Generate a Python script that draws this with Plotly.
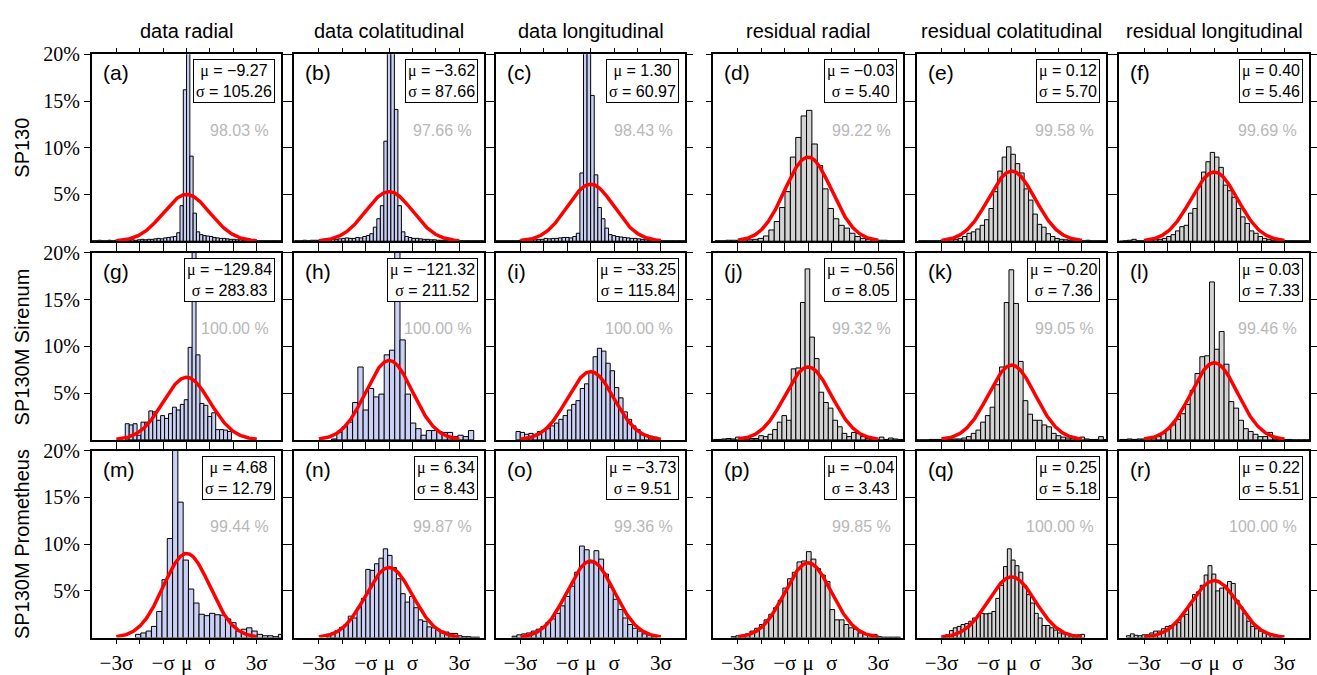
import numpy as np
import plotly.graph_objects as go

col_titles = ["data radial", "data colatitudinal", "data longitudinal",
              "residual radial", "residual colatitudinal", "residual longitudinal"]
row_titles = ["SP130", "SP130M Sirenum", "SP130M Prometheus"]
panel_labels = ["(a)", "(b)", "(c)", "(d)", "(e)", "(f)",
                "(g)", "(h)", "(i)", "(j)", "(k)", "(l)",
                "(m)", "(n)", "(o)", "(p)", "(q)", "(r)"]
mu_text = ["−9.27", "−3.62", "1.30", "−0.03", "0.12", "0.40",
           "−129.84", "−121.32", "−33.25", "−0.56", "−0.20", "0.03",
           "4.68", "6.34", "−3.73", "−0.04", "0.25", "0.22"]
sigma_text = ["105.26", "87.66", "60.97", "5.40", "5.70", "5.46",
              "283.83", "211.52", "115.84", "8.05", "7.36", "7.33",
              "12.79", "8.43", "9.51", "3.43", "5.18", "5.51"]
coverage = ["98.03", "97.66", "98.43", "99.22", "99.58", "99.69",
            "100.00", "100.00", "100.00", "99.32", "99.05", "99.46",
            "99.44", "99.87", "99.36", "99.85", "100.00", "100.00"]
# peak height (%) of fitted normal curve
fit_peak = [5.0, 5.3, 6.1, 9.0, 7.5, 7.4,
            6.7, 8.5, 7.3, 7.8, 8.0, 8.25,
            9.0, 7.5, 8.2, 8.0, 6.5, 6.1]
# histogram bins in units of sigma (first left edge, bin width)
bin_start = [-4.06, -4.125, -4.131, -3.98, -3.98, -4.076,
             -2.62, -2.46, -3.19, -4.09, -4.148, -4.133,
             -2.18, -2.68, -3.36, -3.29, -2.99, -3.75]
bin_width = [0.14, 0.15, 0.153, 0.23, 0.188, 0.186,
             0.168, 0.225, 0.183, 0.198, 0.2016, 0.207,
             0.226, 0.187, 0.206, 0.201, 0.165, 0.166]

# bar heights in percent
h_a = [0.05, 0.05, 0.1, 0.05, 0.05, 0.1, 0.05, 0.1, 0.1, 0.1,
       0.1, 0.1, 0.15, 0.1, 0.15, 0.2, 0.15, 0.2, 0.2, 0.25,
       0.3, 0.25, 0.35, 0.4, 0.45, 0.5, 0.9, 3.8, 16.2, 24.0,
       9.1, 3.0, 1.0, 0.7, 0.6, 0.55, 0.5, 0.4, 0.35, 0.3,
       0.3, 0.25, 0.2, 0.2, 0.15, 0.15, 0.1, 0.1, 0.1, 0.05,
       0.05, 0.05, 0.05, 0.05, 0.05, 0.05, 0.05, 0.05]
h_b = [0.05, 0.05, 0.05, 0.1, 0.05, 0.1, 0.1, 0.1, 0.15, 0.1,
       0.15, 0.2, 0.2, 0.25, 0.3, 0.35, 0.3, 0.3, 0.4, 0.35,
       0.5, 0.6, 0.8, 1.5, 2.4, 3.8, 10.7, 26.0, 22.0, 14.1,
       3.8, 1.0, 0.5, 0.4, 0.3, 0.3, 0.25, 0.2, 0.2, 0.15,
       0.15, 0.1, 0.1, 0.1, 0.1, 0.05, 0.05, 0.05, 0.05, 0.05,
       0.05, 0.05, 0.05, 0.05, 0.05]
h_c = [0.05, 0.05, 0.05, 0.05, 0.05, 0.05, 0.05, 0.1, 0.1, 0.1,
       0.15, 0.15, 0.2, 0.2, 0.3, 0.25, 0.3, 0.3, 0.35, 0.4,
       0.4, 0.35, 0.5, 0.85, 7.3, 30.0, 28.0, 15.6, 7.1, 3.6,
       2.4, 1.4, 0.7, 0.6, 0.5, 0.45, 0.4, 0.35, 0.3, 0.3,
       0.25, 0.2, 0.15, 0.1, 0.1, 0.1, 0.05, 0.05, 0.05, 0.05,
       0.05, 0.05, 0.05, 0.05]
h_d = [0.05, 0.05, 0.1, 0.1, 0.1, 0.15, 0.15, 0.2, 0.3, 0.56,
       1.2, 2.1, 3.6, 5.3, 9.0, 11.1, 13.4, 14.0, 10.4, 8.1,
       5.6, 3.5, 2.4, 1.7, 1.4, 0.85, 0.5, 0.3, 0.2, 0.15,
       0.1, 0.1, 0.05, 0.05, 0.05]
h_e = [0.05, 0.05, 0.05, 0.05, 0.05, 0.1, 0.1, 0.15, 0.2, 0.3,
       0.5, 0.85, 1.0, 1.3, 1.7, 2.3, 3.5, 5.3, 7.5, 9.0,
       10.1, 9.3, 8.3, 7.3, 5.6, 4.4, 2.9, 1.8, 1.5, 0.8,
       0.5, 0.3, 0.2, 0.15, 0.1, 0.1, 0.05, 0.05, 0.1, 0.05,
       0.05, 0.05, 0.05]
h_f = [0.0, 0.05, 0.1, 0.2, 0.05, 0.05, 0.1, 0.1, 0.15, 0.2,
       0.3, 0.5, 0.7, 1.1, 1.55, 1.7, 3.0, 3.5, 5.8, 7.4,
       8.5, 9.5, 9.0, 7.9, 6.0, 5.4, 4.7, 3.5, 2.6, 1.9,
       1.1, 0.85, 0.5, 0.3, 0.2, 0.1, 0.1, 0.05, 0.05, 0.05,
       0.05, 0.05, 0.05, 0.05]
h_g = [1.73, 1.6, 1.73, 0.5, 1.9, 1.9, 3.1, 3.0, 2.1, 2.6,
       2.3, 2.8, 3.5, 3.2, 3.8, 4.3, 9.9, 24.0, 9.1, 3.9,
       3.7, 2.5, 2.9, 1.1, 1.1, 1.05, 0.9]
h_h = [0.1, 0.8, 1.4, 1.9, 4.0, 7.8, 3.2, 5.5, 4.6, 4.9,
       9.1, 9.6, 22.0, 10.7, 4.9, 1.8, 1.2, 0.5, 1.0, 1.0,
       0.9, 0.8, 0.8, 0.35, 0.5, 0.35, 1.0]
h_i = [0.9, 0.8, 0.6, 0.7, 0.6, 0.9, 1.0, 1.2, 1.5, 1.8,
       2.2, 2.6, 3.2, 3.8, 4.2, 5.5, 6.0, 7.3, 8.9, 9.8,
       9.5, 8.2, 7.4, 5.6, 4.5, 3.0, 2.2, 1.5, 1.1, 0.7,
       0.5, 0.4, 0.3]
h_j = [0.05, 0.05, 0.1, 0.15, 0.1, 0.3, 0.1, 0.1, 0.15, 0.15,
       0.45, 0.35, 0.6, 1.1, 1.9, 2.6, 2.1, 7.6, 7.7, 14.7,
       18.3, 11.0, 8.7, 5.1, 4.0, 3.4, 2.1, 1.4, 0.7, 0.35,
       0.8, 0.7, 0.35, 0.15, 0.1, 0.05, 0.3, 0.05, 0.2, 0.1,
       0.05, 0.05]
h_k = [0.0, 0.0, 0.0, 0.05, 0.05, 0.05, 0.05, 0.05, 0.1, 0.1,
       0.2, 0.35, 0.7, 1.05, 1.9, 2.6, 3.5, 5.9, 7.8, 14.7,
       18.2, 14.6, 8.4, 4.2, 2.75, 2.1, 2.1, 1.6, 1.4, 0.7,
       0.45, 0.3, 0.2, 0.15, 0.1, 0.3, 0.1, 0.05, 0.05, 0.35,
       0.05]
h_l = [0.05, 0.05, 0.1, 0.05, 0.1, 0.1, 0.15, 0.2, 0.35, 0.7,
       1.1, 1.6, 2.2, 2.8, 3.8, 5.3, 7.1, 8.9, 9.0, 16.9,
       9.7, 11.6, 8.1, 4.1, 3.4, 2.1, 1.2, 0.9, 0.6, 0.35,
       0.35, 0.8, 0.1, 0.05, 0.05, 0.05, 0.0, 0.0, 0.0, 0.0]
h_m = [0.35, 0.5, 0.7, 1.2, 2.8, 6.2, 10.6, 24.0, 14.5, 8.3,
       5.2, 3.7, 2.5, 2.35, 2.6, 2.45, 2.4, 2.0, 1.6, 0.7,
       0.9, 1.05, 0.7, 0.35, 0.2, 0.2, 0.1, 0.35]
h_n = [0.35, 0.5, 0.75, 1.1, 1.4, 2.3, 2.1, 3.2, 4.2, 7.3,
       7.2, 7.9, 8.5, 9.5, 8.8, 7.5, 6.3, 4.7, 3.8, 4.4,
       3.2, 1.9, 1.75, 1.15, 1.05, 0.9, 0.7, 0.6, 0.45, 0.45,
       0.2, 0.1, 0.1, 0.05, 0.05]
h_o = [0.15, 0.3, 0.4, 0.5, 0.7, 0.9, 1.2, 1.6, 2.0, 2.6,
       3.4, 4.4, 5.5, 7.0, 9.8, 9.4, 8.0, 9.3, 8.4, 6.8,
       5.4, 4.1, 3.0, 2.1, 1.4, 1.0, 0.7, 0.4, 0.3, 0.2]
h_p = [0.1, 0.2, 0.25, 0.4, 0.7, 1.0, 1.4, 1.9, 2.5, 3.2,
       4.0, 5.3, 6.3, 7.0, 8.1, 8.2, 9.2, 8.4, 7.4, 6.7,
       6.0, 3.0, 1.9, 1.9, 1.4, 1.05, 0.9, 0.5, 0.4, 0.35,
       0.35, 0.1, 0.05, 0.05, 0.05, 0.05]
h_q = [0.1, 0.3, 0.75, 1.05, 1.2, 1.4, 1.5, 1.75, 2.1, 2.35,
       2.6, 2.55, 2.6, 2.8, 4.2, 5.6, 7.6, 9.5, 8.3, 7.7,
       7.0, 5.6, 4.6, 3.7, 2.6, 2.1, 1.3, 1.3, 1.05, 0.8,
       0.5, 0.4, 0.35, 0.3, 0.2, 0.3, 0.35]
h_r = [0.2, 0.4, 0.25, 0.2, 0.3, 0.3, 0.5, 0.7, 0.7, 0.95,
       1.2, 1.3, 1.4, 1.6, 2.3, 2.5, 3.5, 4.6, 4.9, 5.6,
       6.7, 7.7, 6.8, 5.0, 5.3, 5.6, 6.0, 5.8, 4.0, 3.3,
       2.6, 1.75, 1.2, 0.95, 0.7, 0.5, 0.35, 0.3, 0.2, 0.1]

heights = [h_a, h_b, h_c, h_d, h_e, h_f, h_g, h_h, h_i,
           h_j, h_k, h_l, h_m, h_n, h_o, h_p, h_q, h_r]

x_tickvals = [-3, -2, -1, 0, 1, 2, 3]
x_ticktext = ["−3σ", "", "−σ", "μ", "σ", "", "3σ"]
y_tickvals = [5, 10, 15, 20]
y_ticktext = ["5%", "10%", "15%", "20%"]

# ---------------- layout geometry (pixels) ----------------
W, H = 1317, 675
col_left = [92, 295, 497, 715, 919, 1122]
row_top = [44, 246, 447]
PW, PH = 190, 190
DATA_FILL = "#c9d0f4"
RES_FILL = "#d3d3d3"
SERIF = "Liberation Serif, Times New Roman, serif"
SANS = "Liberation Sans, Arial, sans-serif"

fig = go.Figure()
annotations = []
layout_axes = {}


def greek(ch):
    return f'<span style="font-family:{SERIF}">{ch}</span>'


for k in range(18):
    r, c = divmod(k, 6)
    left, top = col_left[c], row_top[r]
    xa = "x" if k == 0 else f"x{k+1}"
    ya = "y" if k == 0 else f"y{k+1}"
    w = bin_width[k]
    hs = heights[k]
    centers = [bin_start[k] + (i + 0.5) * w for i in range(len(hs))]
    fill = DATA_FILL if c < 3 else RES_FILL
    fig.add_trace(go.Bar(x=centers, y=hs, width=w, xaxis=xa, yaxis=ya,
                         marker=dict(color=fill, line=dict(color="black", width=1)),
                         showlegend=False, hoverinfo="skip"))
    xs = np.linspace(-3, 3, 241)
    ys = fit_peak[k] * np.exp(-0.5 * xs ** 2)
    fig.add_trace(go.Scatter(x=xs, y=ys, mode="lines", xaxis=xa, yaxis=ya,
                             line=dict(color="red", width=3.5), showlegend=False,
                             hoverinfo="skip"))

    xdom = [left / W, (left + PW) / W]
    ydom = [1 - (top + PH) / H, 1 - top / H]
    xkey = "xaxis" if k == 0 else f"xaxis{k+1}"
    ykey = "yaxis" if k == 0 else f"yaxis{k+1}"
    layout_axes[xkey] = dict(
        domain=xdom, anchor=ya, range=[-4.05, 4.05], showgrid=False, zeroline=False,
        showline=True, linecolor="black", linewidth=1.5, mirror="ticks",
        ticks="outside", ticklen=5, tickwidth=1, tickcolor="black",
        tickvals=x_tickvals, ticktext=x_ticktext, showticklabels=(r == 2),
        tickfont=dict(family=SERIF, size=21, color="black"))
    layout_axes[ykey] = dict(
        domain=ydom, anchor=xa, range=[0, 20], showgrid=False, zeroline=False,
        showline=True, linecolor="black", linewidth=1.5, mirror="ticks",
        ticks="outside", ticklen=6, tickwidth=1, tickcolor="black",
        tickvals=y_tickvals, ticktext=y_ticktext, showticklabels=(c == 0),
        tickfont=dict(family=SERIF, size=20, color="black"))

    # panel label
    annotations.append(dict(xref="paper", yref="paper", x=(left + 9) / W,
                            y=1 - (top + 19) / H, xanchor="left", yanchor="middle",
                            text=panel_labels[k], showarrow=False,
                            font=dict(family=SANS, size=21, color="black")))
    # mu / sigma box
    annotations.append(dict(xref="paper", yref="paper", x=(left + PW - 6) / W,
                            y=1 - (top + 5) / H, xanchor="right", yanchor="top",
                            text=f"{greek('μ')} = {mu_text[k]}<br>{greek('σ')} = {sigma_text[k]}",
                            showarrow=False, align="center",
                            bordercolor="black", borderwidth=1, borderpad=2,
                            bgcolor="white",
                            font=dict(family=SANS, size=16, color="black")))
    # percentage
    annotations.append(dict(xref="paper", yref="paper", x=(left + PW - 10) / W,
                            y=1 - (top + 77) / H, xanchor="right", yanchor="middle",
                            text=f"{coverage[k]} %", showarrow=False,
                            font=dict(family=SANS, size=16, color="#b8b8b8")))

for c in range(6):
    annotations.append(dict(xref="paper", yref="paper", x=(col_left[c] + PW / 2) / W,
                            y=1 - 20 / H, xanchor="center", yanchor="middle",
                            text=col_titles[c], showarrow=False,
                            font=dict(family=SANS, size=20, color="black")))
for r in range(3):
    annotations.append(dict(xref="paper", yref="paper", x=22 / W,
                            y=1 - (row_top[r] + PH / 2) / H, xanchor="center",
                            yanchor="middle", text=row_titles[r], textangle=-90,
                            showarrow=False,
                            font=dict(family=SANS, size=20, color="black")))

fig.update_layout(width=W, height=H, margin=dict(l=0, r=0, t=0, b=0),
                  paper_bgcolor="white", plot_bgcolor="white",
                  annotations=annotations, barmode="overlay", **layout_axes)
fig.write_html("out.html")
